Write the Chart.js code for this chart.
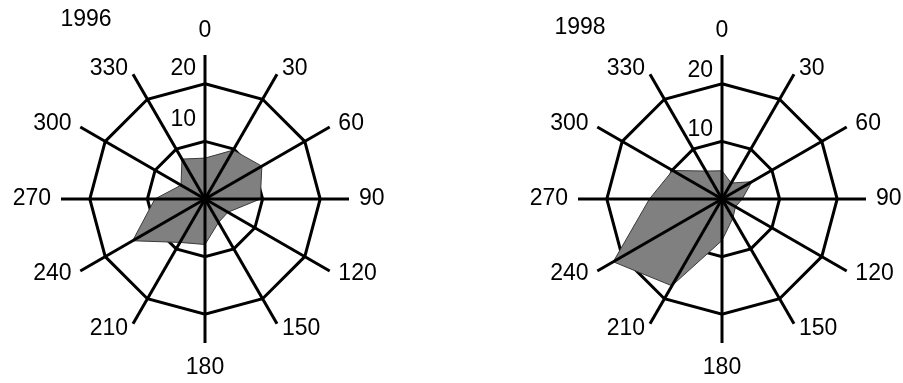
<!DOCTYPE html>
<html>
<head>
<meta charset="utf-8">
<script src="https://cdn.jsdelivr.net/npm/chart.js@4"></script>
<style>
  body { margin: 0; background: #fff; }
  .quadro { position: absolute; top: 0; }
</style>
</head>
<body>
<div class="quadro" style="left:0"><canvas id="rosa1996" width="451" height="383"></canvas></div>
<div class="quadro" style="left:451px"><canvas id="rosa1998" width="452" height="383"></canvas></div>
<script>
// direções (graus) em volta da rosa
const direcoes = ["0", "30", "60", "90", "120", "150", "180", "210", "240", "270", "300", "330"];

// valores
const valores1996 = [7.1, 9.8, 11.4, 9.6, 4.6, 4.7, 7.9, 8.7, 14.5, 8.7, 4.8, 8.0];
const valores1998 = [4.9, 3.2, 6.0, 3.5, 2.7, 3.8, 7.2, 17.4, 21.8, 12.6, 9.9, 5.6];

// anéis da escala
const aneis = [10, 20];
const escalaMax = 25;

const fonte = "23px 'Liberation Sans', Arial, sans-serif";

// textos: direções, anéis e ano
const rotulosPlugin = {
  id: "rotulos",
  afterDraw(chart, args, opts) {
    const scale = chart.scales.r;
    const ctx = chart.ctx;
    ctx.save();
    ctx.font = fonte;
    ctx.fillStyle = "#000";
    ctx.textBaseline = "middle";

    direcoes.forEach((label, i) => {
      const pos = scale.getPointPosition(i, scale.drawingArea + 10);
      const ang = Number(label);
      let dy = 4 * Math.cos((ang * Math.PI) / 180);
      if (ang === 0) {
        ctx.textAlign = "center";
        dy = -14;
      } else if (ang === 180) {
        ctx.textAlign = "center";
        dy = 15;
      } else if (ang < 180) {
        ctx.textAlign = "left";
      } else {
        ctx.textAlign = "right";
      }
      if (ang === 90 || ang === 270) dy = 0;
      ctx.fillText(label, pos.x, pos.y + dy);
    });

    ctx.textAlign = "right";
    aneis.forEach((v, k) => {
      const pos = scale.getPointPositionForValue(0, v);
      ctx.fillText(String(v), pos.x - 9, pos.y + opts.anelDy[k]);
    });

    ctx.textAlign = "center";
    ctx.fillText(opts.ano, scale.xCenter + opts.anoDx, scale.yCenter + opts.anoDy);
    ctx.restore();
  },
};

function criarRosa(id, valores, ano, padding, anelDy, anoDx, anoDy) {
  return new Chart(document.getElementById(id), {
    type: "radar",
    data: {
      labels: direcoes,
      datasets: [
        {
          data: valores,
          backgroundColor: "#808080",
          borderColor: "#3a3a3a",
          borderWidth: 1,
          pointRadius: 0,
          fill: true,
        },
      ],
    },
    options: {
      responsive: false,
      animation: false,
      layout: { padding: padding },
      plugins: {
        legend: { display: false },
        tooltip: { enabled: false },
        rotulos: { ano: ano, anelDy: anelDy, anoDx: anoDx, anoDy: anoDy },
      },
      scales: {
        // anéis (por baixo da área)
        r: {
          min: 0,
          max: escalaMax,
          bounds: "data",
          ticks: { display: false, stepSize: 10, includeBounds: false },
          grid: {
            color: (c) => (aneis.includes(c.tick && c.tick.value) ? "#000" : "rgba(0,0,0,0)"),
            lineWidth: 3,
          },
          angleLines: { display: false },
          pointLabels: { display: false },
        },
        // raios (por cima da área)
        r2: {
          type: "radialLinear",
          axis: "r",
          min: 0,
          max: escalaMax,
          bounds: "data",
          ticks: { display: false, stepSize: 10, includeBounds: false },
          grid: { display: false, z: 1 },
          angleLines: { display: true, color: "#000", lineWidth: 3 },
          pointLabels: { display: false },
        },
      },
    },
    plugins: [rotulosPlugin],
  });
}

criarRosa("rosa1996", valores1996, "1996", { left: 61, right: 102, top: 55, bottom: 40 }, [-22, -15], -119, -179);
criarRosa("rosa1998", valores1998, "1998", { left: 127, right: 37, top: 55, bottom: 40 }, [-12, -13], -142, -171);
</script>
</body>
</html>
